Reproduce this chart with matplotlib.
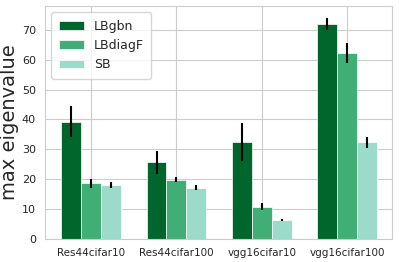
import matplotlib
matplotlib.use("Agg")
import matplotlib.pyplot as plt
import numpy as np
import seaborn as sns

sns.set_style("whitegrid")

categories = ["Res44cifar10", "Res44cifar100", "vgg16cifar10", "vgg16cifar100"]
series = ["LBgbn", "LBdiagF", "SB"]
values = {
    "LBgbn":   [39.3, 25.6, 32.4, 72.0],
    "LBdiagF": [18.6, 19.8, 10.8, 62.2],
    "SB":      [18.1, 17.2, 6.4, 32.4],
}
errors = {
    "LBgbn":   [5.2, 4.0, 6.3, 2.0],
    "LBdiagF": [1.5, 0.8, 1.2, 3.4],
    "SB":      [1.1, 0.7, 0.3, 1.9],
}
colors = ["#00662b", "#41ae76", "#9cdac9"]

fig, ax = plt.subplots(figsize=(3.99, 2.62), dpi=100)
x = np.arange(len(categories))
w = 0.233
for i, s in enumerate(series):
    ax.bar(x + (i - 1) * w, values[s], w, color=colors[i], label=s,
           edgecolor="white", linewidth=0.5,
           yerr=errors[s], error_kw=dict(ecolor="black", elinewidth=1.5, capsize=0))

ax.set_xticks(x)
ax.set_xticklabels(categories, fontsize=7.5)
ax.tick_params(axis="y", labelsize=8, pad=3)
ax.tick_params(axis="x", pad=3)
ax.set_xlim(-0.54, 3.53)
ax.set_ylim(0, 78)
ax.set_ylabel("max eigenvalue", fontsize=14, labelpad=2)
ax.legend(loc="upper left", fontsize=9, borderpad=0.6, handlelength=2.0)
fig.subplots_adjust(left=0.113, right=0.983, top=0.977, bottom=0.088)
fig.savefig("out.png", dpi=100)
